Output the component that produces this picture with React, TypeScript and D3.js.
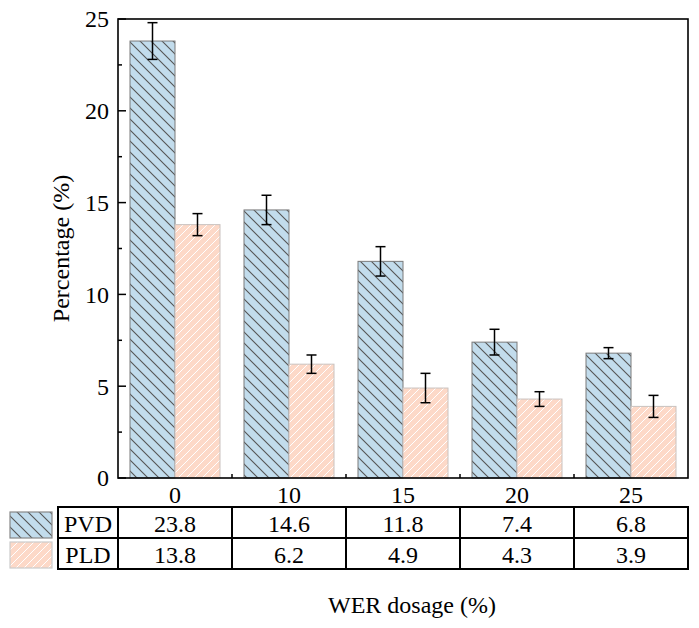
import * as d3 from 'd3'

const categories = ['0', '10', '15', '20', '25']
const seriesNames = ['PVD', 'PLD']
const pvdValues = [23.8, 14.6, 11.8, 7.4, 6.8]
const pldValues = [13.8, 6.2, 4.9, 4.3, 3.9]
const pvdErrors = [1.0, 0.8, 0.8, 0.7, 0.3]
const pldErrors = [0.6, 0.5, 0.8, 0.4, 0.6]
const yTicks = [0, 5, 10, 15, 20, 25]

const W = 699, H = 628
const m = { l: 118, r: 688, t: 19, b: 478 }
const font = 'Liberation Serif, DejaVu Serif, serif'

const styles: Record<string, { fill: string; border: string; pattern: string }> = {
  PVD: { fill: '#c2dcec', border: '#7a7a7a', pattern: 'hatch-pvd' },
  PLD: { fill: '#fdd9c8', border: '#c9c2bf', pattern: 'hatch-pld' },
}

export default function App() {
  const x0 = d3.scaleBand<string>().domain(categories).range([m.l, m.r])
  const x1 = d3.scaleBand<string>().domain(seriesNames).range([12, x0.bandwidth() - 12])
  const y = d3.scaleLinear().domain([0, 25]).range([m.b, m.t])
  const minorY = d3.range(2.5, 25, 5)

  const rows = [
    { name: 'PVD', values: pvdValues, errors: pvdErrors },
    { name: 'PLD', values: pldValues, errors: pldErrors },
  ]

  const tTop = 507, rowH = 31, tLeft = 58
  const colEdges = [tLeft, ...categories.map(c => x0(c)!), m.r]

  return (
    <svg width={W} height={H} style={{ position: 'absolute', left: 0, top: 0, background: '#fff', fontFamily: font }}>
      <defs>
        <pattern id="hatch-pvd" patternUnits="userSpaceOnUse" width={11} height={11}>
          <rect width={11} height={11} fill={styles.PVD.fill} />
          <path d="M-1,-1 L12,12 M-1,10 L1,12 M10,-1 L12,1" stroke="#555" strokeWidth={1.1} />
        </pattern>
        <pattern id="hatch-pld" patternUnits="userSpaceOnUse" width={8} height={8}>
          <rect width={8} height={8} fill={styles.PLD.fill} />
          <path d="M-1,9 L9,-1 M-1,1 L1,-1 M7,9 L9,7" stroke="#fff" strokeWidth={1} />
        </pattern>
      </defs>

      {/* bars */}
      {rows.map(r => categories.map((c, i) => (
        <rect key={r.name + c} x={x0(c)! + x1(r.name)!} y={y(r.values[i])}
          width={x1.bandwidth()} height={m.b - y(r.values[i])}
          fill={`url(#${styles[r.name].pattern})`} stroke={styles[r.name].border} strokeWidth={1} />
      )))}

      {/* error bars */}
      {rows.map(r => categories.map((c, i) => {
        const cx = x0(c)! + x1(r.name)! + x1.bandwidth() / 2
        const hi = y(r.values[i] + r.errors[i]), lo = y(r.values[i] - r.errors[i])
        return (
          <g key={'e' + r.name + c} stroke="#000" strokeWidth={1.5}>
            <line x1={cx} x2={cx} y1={hi} y2={lo} />
            <line x1={cx - 5} x2={cx + 5} y1={hi} y2={hi} />
            <line x1={cx - 5} x2={cx + 5} y1={lo} y2={lo} />
          </g>
        )
      }))}

      {/* frame */}
      <rect x={m.l} y={m.t} width={m.r - m.l} height={m.b - m.t} fill="none" stroke="#000" strokeWidth={1.6} />

      {/* y ticks */}
      {yTicks.map(t => (
        <g key={'y' + t}>
          <line x1={m.l} x2={m.l + 8} y1={y(t)} y2={y(t)} stroke="#000" strokeWidth={1.5} />
          <text x={109} y={y(t)} dy="0.35em" textAnchor="end" fontSize={24}>{t}</text>
        </g>
      ))}
      {minorY.map(t => (
        <line key={'ym' + t} x1={m.l} x2={m.l + 4} y1={y(t)} y2={y(t)} stroke="#000" strokeWidth={1.5} />
      ))}

      {/* x ticks */}
      {categories.slice(1).map(c => (
        <line key={'xm' + c} x1={x0(c)!} x2={x0(c)!} y1={m.b} y2={m.b - 4} stroke="#000" strokeWidth={1.5} />
      ))}
      {categories.map(c => (
        <text key={'xl' + c} x={x0(c)! + x0.bandwidth() / 2} y={503} textAnchor="middle" fontSize={24}>{c}</text>
      ))}

      {/* axis titles */}
      <text transform={`translate(69,${(m.t + m.b) / 2}) rotate(-90)`} textAnchor="middle" fontSize={24}>Percentage (%)</text>
      <text x={412} y={613} textAnchor="middle" fontSize={24}>WER dosage (%)</text>

      {/* data table */}
      {rows.map((r, ri) => (
        <g key={'row' + r.name}>
          <rect x={10} y={tTop + 5 + ri * 30} width={42} height={26}
            fill={`url(#${styles[r.name].pattern})`} stroke={ri === 0 ? '#888' : '#ccc'} strokeWidth={1.2} />
          <text x={(tLeft + m.l) / 2} y={tTop + ri * rowH + rowH / 2 + 1} dy="0.35em" textAnchor="middle" fontSize={24}>{r.name}</text>
          {categories.map((c, i) => (
            <text key={c} x={x0(c)! + x0.bandwidth() / 2} y={tTop + ri * rowH + rowH / 2 + 1} dy="0.35em" textAnchor="middle" fontSize={24}>
              {r.values[i]}
            </text>
          ))}
        </g>
      ))}
      <g stroke="#000" strokeWidth={2} fill="none">
        <rect x={tLeft} y={tTop} width={m.r - tLeft} height={rowH * 2} />
        <line x1={tLeft} x2={m.r} y1={tTop + rowH} y2={tTop + rowH} />
        {colEdges.slice(1, -1).map((ex, i) => (
          <line key={i} x1={ex} x2={ex} y1={tTop} y2={tTop + rowH * 2} />
        ))}
      </g>
    </svg>
  )
}
